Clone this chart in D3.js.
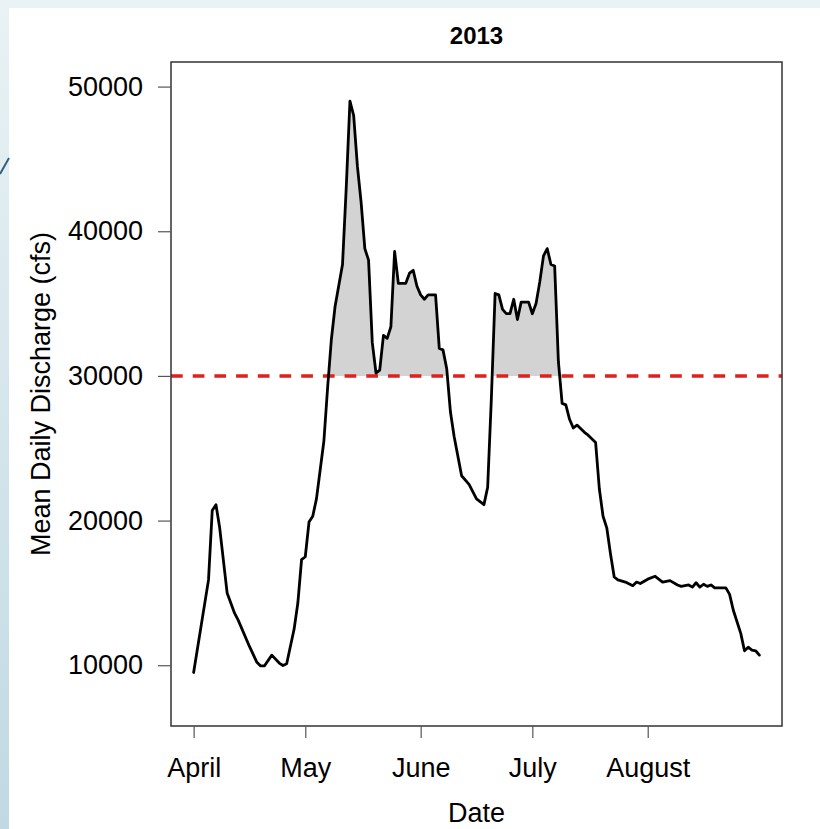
<!DOCTYPE html>
<html>
<head>
<meta charset="utf-8">
<script src="https://cdn.jsdelivr.net/npm/d3@7"></script>
<style>
  html, body { margin: 0; padding: 0; background: #ffffff; }
  svg { display: block; }
  text { font-family: "Liberation Sans", Arial, Helvetica, sans-serif; fill: #000; }
</style>
</head>
<body>
<svg id="chart" width="820" height="829"></svg>
<script>
// Mean daily discharge, 2013 season (dates of line vertices and values in cfs)
const dates = [
  "2013-04-01","2013-04-05","2013-04-06","2013-04-07","2013-04-08","2013-04-10",
  "2013-04-12","2013-04-13","2013-04-16","2013-04-18","2013-04-19","2013-04-20",
  "2013-04-22","2013-04-24","2013-04-25","2013-04-26","2013-04-28","2013-04-29",
  "2013-04-30","2013-05-01","2013-05-02","2013-05-03","2013-05-04","2013-05-06",
  "2013-05-07","2013-05-08","2013-05-09","2013-05-11","2013-05-12","2013-05-13",
  "2013-05-14","2013-05-15","2013-05-16","2013-05-17","2013-05-18","2013-05-19",
  "2013-05-20","2013-05-21","2013-05-22","2013-05-23","2013-05-24","2013-05-25",
  "2013-05-26","2013-05-28","2013-05-29","2013-05-30","2013-05-31","2013-06-01",
  "2013-06-02","2013-06-03","2013-06-05","2013-06-06","2013-06-07","2013-06-08",
  "2013-06-09","2013-06-10","2013-06-12","2013-06-14","2013-06-16","2013-06-18",
  "2013-06-19","2013-06-20","2013-06-21","2013-06-22","2013-06-23","2013-06-24",
  "2013-06-25","2013-06-26","2013-06-27","2013-06-28","2013-06-30","2013-07-01",
  "2013-07-02","2013-07-03","2013-07-04","2013-07-05","2013-07-06","2013-07-07",
  "2013-07-08","2013-07-09","2013-07-10","2013-07-11","2013-07-12","2013-07-13",
  "2013-07-15","2013-07-16","2013-07-18","2013-07-19","2013-07-20","2013-07-21",
  "2013-07-22","2013-07-23","2013-07-24","2013-07-26","2013-07-28","2013-07-29",
  "2013-07-30","2013-08-01","2013-08-03","2013-08-05","2013-08-07","2013-08-09",
  "2013-08-10","2013-08-12","2013-08-13","2013-08-14","2013-08-15","2013-08-16",
  "2013-08-17","2013-08-18","2013-08-19","2013-08-22","2013-08-23","2013-08-24",
  "2013-08-26","2013-08-27","2013-08-28","2013-08-29","2013-08-30","2013-08-31"
];
const discharge = [
  9500, 15900, 20700, 21100, 19500, 15000,
  13600, 13100, 11300, 10200, 9950, 9950,
  10700, 10150, 9980, 10100, 12500, 14300,
  17300, 17500, 19900, 20300, 21500, 25500,
  29200, 32500, 34800, 37700, 43000, 49000,
  48000, 44500, 42000, 38800, 38000, 32300,
  30200, 30400, 32800, 32600, 33400, 38600,
  36400, 36400, 37100, 37300, 36200, 35600,
  35300, 35600, 35600, 31900, 31800, 30500,
  27500, 25800, 23100, 22500, 21500, 21100,
  22300, 28500, 35700, 35600, 34600, 34300,
  34300, 35300, 33900, 35100, 35100, 34300,
  35000, 36500, 38300, 38800, 37700, 37600,
  31000, 28100, 28000, 27000, 26400, 26600,
  26100, 25900, 25400, 22200, 20300, 19500,
  17700, 16100, 15900, 15750, 15500, 15750,
  15650, 15950, 16150, 15750, 15850, 15550,
  15450, 15550, 15400, 15700, 15400, 15600,
  15450, 15550, 15350, 15350, 14900, 13800,
  12200, 11000, 11250, 11050, 11000, 10700
];
const threshold = 30000;                       // flow threshold (cfs)
const yTicks = [10000, 20000, 30000, 40000, 50000];
const yLimits = [7500, 50000];
const monthTicks = ["2013-04-01","2013-05-01","2013-06-01","2013-07-01","2013-08-01"];
const monthLabels = ["April","May","June","July","August"];
const chartTitle = "2013";
const xTitle = "Date";
const yTitle = "Mean Daily Discharge (cfs)";

const parse = d3.utcParse("%Y-%m-%d");
const series = dates.map((d, i) => ({ date: parse(d), q: discharge[i] }));

const svg = d3.select("#chart");

// slide backdrop: pale strip along the top and left edges
const defs = svg.append("defs");
const grad = defs.append("linearGradient").attr("id", "edge").attr("x1", 0).attr("y1", 0).attr("x2", 0).attr("y2", 1);
grad.append("stop").attr("offset", "0%").attr("stop-color", "#e9f2f5");
grad.append("stop").attr("offset", "100%").attr("stop-color", "#c0d9e2");
svg.append("rect").attr("x", 0).attr("y", 0).attr("width", 820).attr("height", 8).attr("fill", "#e9f2f5");
svg.append("rect").attr("x", 0).attr("y", 0).attr("width", 9).attr("height", 829).attr("fill", "url(#edge)");
svg.append("line").attr("x1", 0).attr("y1", 174).attr("x2", 9).attr("y2", 158)
  .attr("stroke", "#2f5f7f").attr("stroke-width", 2);

// plot region
const box = { left: 171, right: 782, top: 62, bottom: 726 };

// 4% padding on both axes
const xExt = d3.extent(series, d => d.date);
const xPad = (xExt[1] - xExt[0]) * 0.04;
const x = d3.scaleUtc()
  .domain([new Date(+xExt[0] - xPad), new Date(+xExt[1] + xPad)])
  .range([box.left, box.right]);
const yPad = (yLimits[1] - yLimits[0]) * 0.04;
const y = d3.scaleLinear()
  .domain([yLimits[0] - yPad, yLimits[1] + yPad])
  .range([box.bottom, box.top]);

// shaded area where discharge exceeds the threshold
defs.append("clipPath").attr("id", "above")
  .append("rect")
  .attr("x", box.left).attr("y", box.top)
  .attr("width", box.right - box.left).attr("height", y(threshold) - box.top);

svg.append("path")
  .datum(series)
  .attr("clip-path", "url(#above)")
  .attr("fill", "#d3d3d3")
  .attr("d", d3.area().x(d => x(d.date)).y0(y(threshold)).y1(d => y(d.q)));

// threshold line
svg.append("line")
  .attr("x1", box.left).attr("x2", box.right)
  .attr("y1", y(threshold)).attr("y2", y(threshold))
  .attr("stroke", "#e0201b").attr("stroke-width", 3.5)
  .attr("stroke-dasharray", "11.7,10");

// discharge line
svg.append("path")
  .datum(series)
  .attr("fill", "none")
  .attr("stroke", "#000")
  .attr("stroke-width", 2.8)
  .attr("stroke-linejoin", "round")
  .attr("stroke-linecap", "round")
  .attr("d", d3.line().x(d => x(d.date)).y(d => y(d.q)));

// frame
svg.append("rect")
  .attr("x", box.left).attr("y", box.top)
  .attr("width", box.right - box.left).attr("height", box.bottom - box.top)
  .attr("fill", "none").attr("stroke", "#333").attr("stroke-width", 1.5);

// y axis
const yAxis = svg.append("g").attr("transform", `translate(${box.left},0)`)
  .call(d3.axisLeft(y).tickValues(yTicks).tickSize(13).tickPadding(15).tickFormat(d3.format("d")));
yAxis.select(".domain").remove();
yAxis.selectAll("line").attr("stroke", "#555").attr("stroke-width", 1.2);
yAxis.selectAll("text").attr("font-size", 27).attr("fill", "#000")
  .attr("font-family", "'Liberation Sans', Arial, sans-serif");

// x axis
const xAxis = svg.append("g").attr("transform", `translate(0,${box.bottom})`)
  .call(d3.axisBottom(x).tickValues(monthTicks.map(parse)).tickSize(12).tickPadding(20)
    .tickFormat((d, i) => monthLabels[i]));
xAxis.select(".domain").remove();
xAxis.selectAll("line").attr("stroke", "#555").attr("stroke-width", 1.2);
xAxis.selectAll("text").attr("font-size", 27).attr("fill", "#000")
  .attr("font-family", "'Liberation Sans', Arial, sans-serif");

// titles
svg.append("text").attr("x", (box.left + box.right) / 2).attr("y", 44)
  .attr("text-anchor", "middle").attr("font-size", 24).attr("font-weight", "bold").text(chartTitle);
svg.append("text").attr("x", (box.left + box.right) / 2).attr("y", 822)
  .attr("text-anchor", "middle").attr("font-size", 27).text(xTitle);
svg.append("text").attr("transform", `translate(50,${(box.top + box.bottom) / 2}) rotate(-90)`)
  .attr("text-anchor", "middle").attr("font-size", 27).text(yTitle);
</script>
</body>
</html>
